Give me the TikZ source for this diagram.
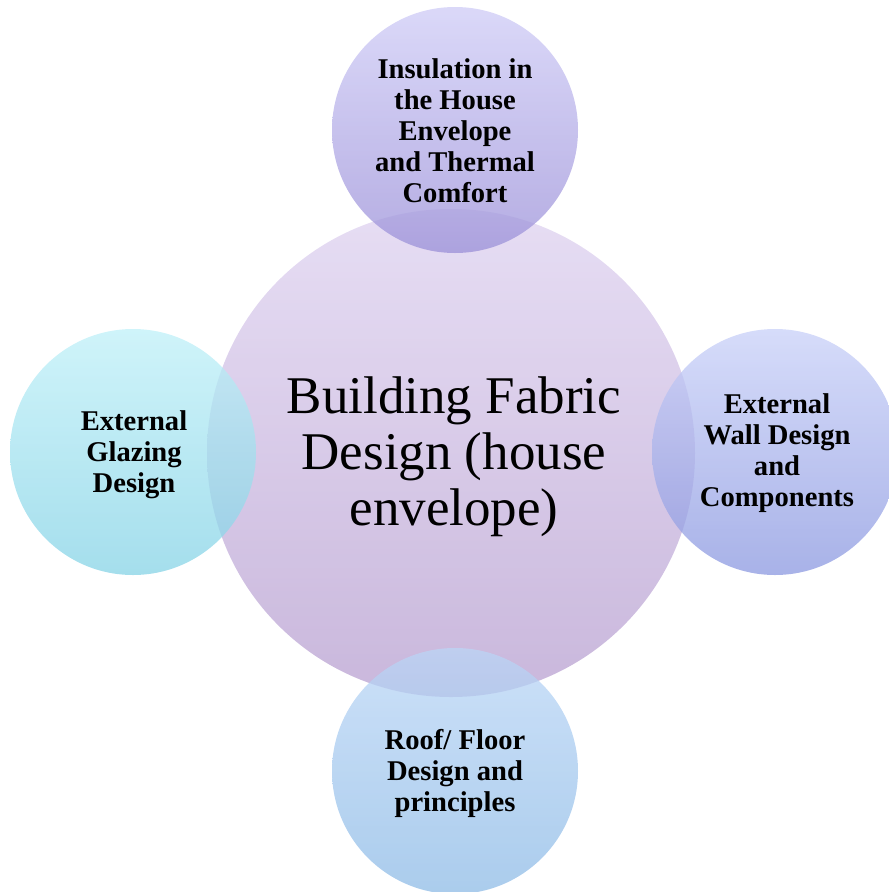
\documentclass[tikz,border=0pt]{standalone}
\usepackage{fontspec}
\setmainfont{Liberation Serif}
\definecolor{cTopA}{RGB}{222,210,240}
\definecolor{cTopB}{RGB}{183,159,208}
\definecolor{uTopA}{RGB}{206,203,246}
\definecolor{uTopB}{RGB}{155,144,216}
\definecolor{lTopA}{RGB}{191,240,248}
\definecolor{lTopB}{RGB}{134,211,230}
\definecolor{rTopA}{RGB}{200,208,248}
\definecolor{rTopB}{RGB}{139,152,224}
\definecolor{bTopA}{RGB}{187,214,246}
\definecolor{bTopB}{RGB}{142,187,230}
\tikzset{
  disc/.style={circle, inner sep=0pt, minimum size=#1, fill opacity=0.75},
  smalltxt/.style={align=center, inner sep=0pt, font=\fontsize{28.6}{31}\selectfont\bfseries},
  bigtxt/.style={align=center, inner sep=0pt, font=\fontsize{53}{56}\selectfont}
}
\begin{document}
\begin{tikzpicture}[x=1pt,y=-1pt]
\useasboundingbox (0,0) rectangle (889,892);
\node[disc=488pt, top color=cTopA, bottom color=cTopB] (center) at (451,453) {};
\node[disc=246pt, top color=uTopA, bottom color=uTopB] (top) at (455,130) {};
\node[disc=246pt, top color=lTopA, bottom color=lTopB] (left) at (133,452) {};
\node[disc=246pt, top color=rTopA, bottom color=rTopB] (right) at (775,452) {};
\node[disc=246pt, top color=bTopA, bottom color=bTopB] (bottom) at (455,771) {};
\node[bigtxt] (centertxt) at (454,457) {Building Fabric\\Design (house\\envelope)};
\node[smalltxt] (toptxt) at (455,130.5) {Insulation in\\the House\\Envelope\\and Thermal\\Comfort};
\node[smalltxt] (lefttxt) at (134,454.5) {External\\Glazing\\Design};
\node[smalltxt] (righttxt) at (777,453) {External\\Wall Design\\and\\Components};
\node[smalltxt] (bottomtxt) at (455,773.5) {Roof/ Floor\\Design and\\principles};
\end{tikzpicture}
\end{document}
